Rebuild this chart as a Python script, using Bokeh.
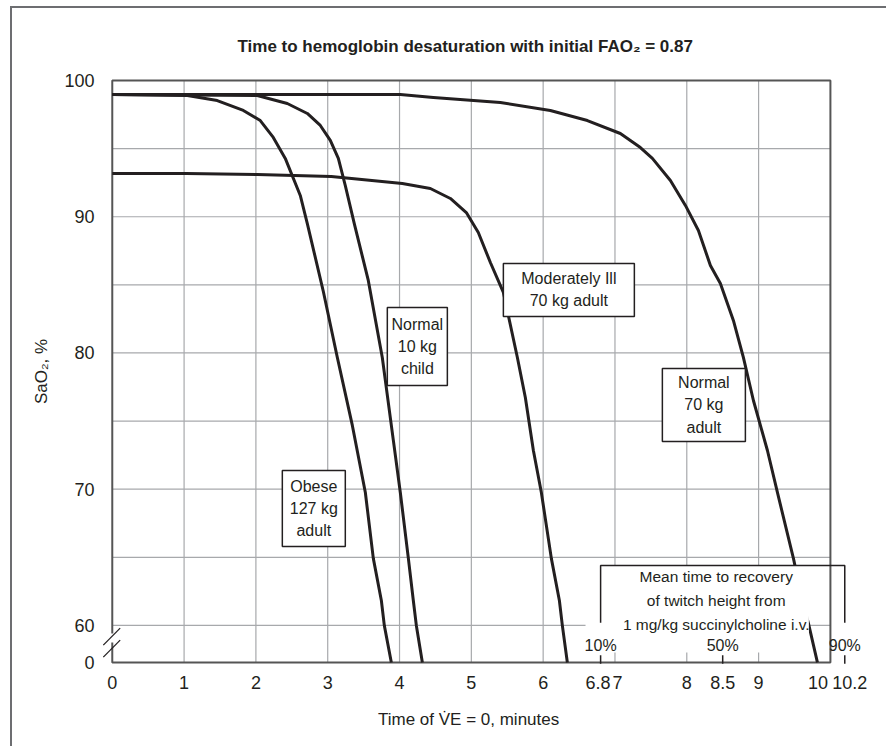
import numpy as np
from bokeh.plotting import figure
from bokeh.models import Range1d, FixedTicker, CustomJSTickFormatter, InlineStyleSheet
from bokeh.core.properties import value
from bokeh.embed import file_html
from bokeh.resources import INLINE

FONT = "Liberation Sans"
INK = "#231f20"
FRAME = "#555555"
NB = "\u00a0"

# ---------------- data ----------------
# time (min) of apnea vs SaO2 (%); 0 = curve reaches the bottom of the broken axis
obese_t = [0.0, 1.045, 1.462, 1.825, 2.061, 2.242, 2.409, 2.618, 2.716, 2.939, 3.134, 3.343, 3.524, 3.635, 3.747, 3.788, 3.886]
obese_s = [98.97, 98.90, 98.53, 97.80, 97.06, 95.82, 94.28, 91.56, 89.50, 84.51, 79.67, 74.68, 69.76, 64.92, 61.83, 60.0, 0.0]

child_t = [0.0, 2.019, 2.437, 2.716, 2.897, 3.036, 3.148, 3.245, 3.370, 3.565, 3.760, 3.914, 4.011, 4.123, 4.192, 4.234, 4.318]
child_s = [98.97, 98.90, 98.31, 97.58, 96.70, 95.60, 94.28, 92.29, 89.50, 85.32, 79.67, 73.58, 69.76, 64.92, 61.83, 60.0, 0.0]

ill_t = [0.0, 1.031, 2.019, 3.050, 4.039, 4.429, 4.708, 4.930, 5.097, 5.265, 5.446, 5.641, 5.752, 5.864, 5.975, 6.114, 6.226, 6.267, 6.337]
ill_s = [93.17, 93.17, 93.10, 92.95, 92.44, 92.07, 91.34, 90.31, 88.84, 86.64, 84.44, 79.67, 76.73, 72.84, 69.76, 64.92, 61.83, 60.0, 0.0]

adult_t = [0.0, 4.011, 4.471, 5.404, 6.100, 6.616, 7.075, 7.354, 7.521, 7.772, 7.981, 8.162, 8.329, 8.468, 8.649, 8.788, 8.928, 9.123, 9.262, 9.485, 9.610, 9.694, 9.819]
adult_s = [98.97, 98.97, 98.75, 98.39, 97.80, 97.06, 96.11, 95.08, 94.28, 92.66, 90.83, 88.99, 86.42, 85.10, 82.39, 79.67, 76.51, 72.84, 69.76, 64.92, 61.83, 60.15, 0.0]

curve_labels = ["Obese\n127 kg\nadult", "Normal\n10 kg\nchild", "Moderately Ill\n70 kg adult", "Normal\n70 kg\nadult"]

recovery_times = [6.8, 8.5, 10.2]
recovery_labels = ["10%", "50%", "90%"]
recovery_text = "Mean time to recovery\nof twitch height from\n1 mg/kg succinylcholine i.v."

x_tick_vals = [0, 1, 2, 3, 4, 5, 6, 6.8, 7, 8, 8.5, 9, 10, 10.2]
x_tick_labels = ["0", "1", "2", "3", "4", "5", "6", "6.8", "7", "8", "8.5", "9", "10", "10.2"]
y_tick_vals = [0, 60, 70, 80, 90, 100]
y_tick_labels = ["0", "60", "70", "80", "90", "100"]
x_grid_vals = [1, 2, 3, 4, 5, 6, 7, 8, 9]
y_grid_vals = [60, 65, 70, 75, 80, 85, 90, 95]

# crowded neighbouring tick labels are nudged apart with no-break spaces (as in the original)
x_label_pad = {"6.8": ("", NB), "7": (NB, ""), "10": ("", NB * 5), "10.2": (NB * 2, "")}
x_tick_text = [x_label_pad.get(s, ("", ""))[0] + s + x_label_pad.get(s, ("", ""))[1] for s in x_tick_labels]

# ---------------- axis break: 0..60 squeezed into a short strip ----------------
BREAK = 57.28
def brk(v):
    v = np.asarray(v, dtype=float)
    return np.where(v >= 60, v, BREAK + v / 60.0 * (60.0 - BREAK))

p = figure(width=886, height=746, output_backend="svg", toolbar_location=None,
           x_range=Range1d(-0.15, 10.6), y_range=Range1d(BREAK - 0.15, 100.147),
           min_border_left=101, min_border_right=13, min_border_top=78, min_border_bottom=82)
p.outline_line_color = None
p.grid.visible = False
p.background_fill_color = "white"
p.border_fill_color = "white"
# thin outer frame of the original figure (left and top edges)
p.stylesheets = [InlineStyleSheet(css=""":host { position: relative; }
:host::after { content: ''; position: absolute; left: 10px; top: 6px; right: 0; bottom: 0;
  border-left: 2px solid #6d6e71; border-top: 2px solid #6d6e71; pointer-events: none; }""")]

p.title.text = "Time to hemoglobin desaturation with initial FAO\u2082 = 0.87"
p.title.align = "left"
p.title.offset = 136
p.title.standoff = 46
p.title.text_font = FONT
p.title.text_font_size = "17px"
p.title.text_font_style = "bold"
p.title.text_color = INK

fmt_code = """
let best = -1, bd = 1e9;
for (let i = 0; i < vals.length; i++) { const d = Math.abs(vals[i] - tick); if (d < bd) { bd = d; best = i; } }
return bd < 1e-6 ? labs[best] : "";
"""
xa = p.xaxis[0]
xa.ticker = FixedTicker(ticks=x_tick_vals)
xa.formatter = CustomJSTickFormatter(args=dict(vals=x_tick_vals, labs=x_tick_text), code=fmt_code)
xa.bounds = (0, 10.2)
xa.axis_label = "Time of V\u0307E = 0, minutes" + NB * 8

ya = p.yaxis[0]
y_pos = [float(v) for v in brk(y_tick_vals)]
ya.ticker = FixedTicker(ticks=y_pos)
ya.formatter = CustomJSTickFormatter(args=dict(vals=y_pos, labs=y_tick_labels), code=fmt_code)
ya.bounds = (BREAK, 100)
ya.axis_label = "SaO\u2082, %"

for ax in (xa, ya):
    ax.axis_line_color = None
    ax.major_tick_line_color = None
    ax.minor_tick_line_color = None
    ax.major_label_text_font = FONT
    ax.major_label_text_font_size = "18px"
    ax.major_label_text_color = INK
    ax.axis_label_text_font = FONT
    ax.axis_label_text_font_size = "17px"
    ax.axis_label_text_font_style = "normal"
    ax.axis_label_text_color = INK
xa.major_label_standoff = 2
xa.axis_label_standoff = 14
ya.major_label_standoff = 1
ya.axis_label_standoff = 10

# grid
p.segment(x0=x_grid_vals, x1=x_grid_vals, y0=BREAK, y1=100, line_color="#a7a9ac", line_width=1.2)
p.segment(x0=0, x1=10, y0=y_grid_vals, y1=y_grid_vals, line_color="#a7a9ac", line_width=1.2)
# border of the plotting area
p.quad(left=0, right=10, bottom=BREAK, top=100, fill_color=None, line_color=FRAME, line_width=2)
# axis break marks on the y axis
p.segment(x0=[0.0], x1=[0.0], y0=[59.40], y1=[58.74], line_color="white", line_width=4)
p.segment(x0=[-0.125, -0.125], x1=[0.11, 0.11], y0=[58.55, 57.67], y1=[59.80, 58.92],
          line_color=INK, line_width=1.3)

# curves
for t, s in [(obese_t, obese_s), (child_t, child_s), (ill_t, ill_s), (adult_t, adult_s)]:
    p.line(t, brk(s), line_color=INK, line_width=3, line_join="round")

# curve label boxes
box_l = [2.368, 3.830, 5.446, 7.660]
box_r = [3.245, 4.666, 7.270, 8.816]
box_t = [71.38, 83.34, 86.57, 78.86]
box_b = [65.80, 77.61, 82.68, 73.50]
p.quad(left=box_l, right=box_r, top=box_t, bottom=box_b, fill_color="white",
       line_color=INK, line_width=1.5)
p.text(x=[(a + b) / 2 for a, b in zip(box_l, box_r)], y=[(a + b) / 2 for a, b in zip(box_t, box_b)],
       text=curve_labels, text_align="center", text_baseline="middle",
       text_font=value(FONT), text_font_size="16px", text_line_height=1.3, text_color=INK)

# recovery bracket
p.quad(left=6.59, right=9.70, top=64.4, bottom=58.02, fill_color="white", line_color=None)
p.line([recovery_times[0], recovery_times[0], recovery_times[-1], recovery_times[-1]],
       [60.2, 64.4, 64.4, 60.2], line_color=INK, line_width=1.5)
p.segment(x0=recovery_times, x1=recovery_times, y0=57.8, y1=BREAK - 0.1, line_color=INK, line_width=1.5)
p.text(x=[8.41], y=[61.83], text=[recovery_text], text_align="center", text_baseline="middle",
       text_font=value(FONT), text_font_size="15.5px", text_line_height=1.4, text_color=INK)
p.text(x=recovery_times, y=58.53, text=recovery_labels, text_align="center", text_baseline="middle",
       text_font=value(FONT), text_font_size="16px", text_color=INK)

open("out.html", "w").write(file_html(p, INLINE))
